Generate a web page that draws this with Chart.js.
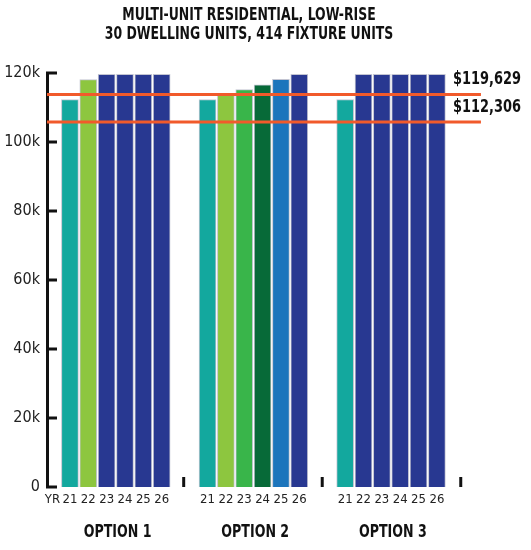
<!DOCTYPE html>
<html lang="en">
<head>
  <meta charset="UTF-8">
  <title>Multi-unit residential, low-rise</title>
  <script src="https://cdn.jsdelivr.net/npm/chart.js"></script>
  <style>
    body {
      margin: 0;
      padding: 0;
      background: #ffffff;
    }
    .chart-box {
      width: 531px;
      height: 550px;
    }
  </style>
</head>
<body>
  <div class="chart-box">
    <canvas id="costChart"></canvas>
  </div>

  <script>
    // values
    const titleLines = ['MULTI-UNIT RESIDENTIAL, LOW-RISE', '30 DWELLING UNITS, 414 FIXTURE UNITS'];
    const yearLabels = ['21', '22', '23', '24', '25', '26'];
    const optionNames = ['OPTION 1', 'OPTION 2', 'OPTION 3'];
    const option1 = [112306, 118100, 119629, 119629, 119629, 119629];
    const option2 = [112306, 113700, 115200, 116600, 118200, 119629];
    const option3 = [112306, 119629, 119629, 119629, 119629, 119629];
    const refLines = [113800, 105800];
    const refLabels = ['$119,629', '$112,306'];
    const yTicks = [0, 20000, 40000, 60000, 80000, 100000, 120000];

    const FONT = "'DejaVu Sans Condensed', 'Liberation Sans Narrow', sans-serif";
    const TEAL = '#13a89e', LIME = '#8dc63f', GREEN = '#39b54a', DKGREEN = '#076a38', BLUE = '#1c75bc', NAVY = '#283891';
    const ORANGE = '#f15a2b';

    // each option group is 7.5 slots wide, bars one slot apart
    const GROUP = 7.5;
    const groups = [option1, option2, option3];
    const barColors = [
      [TEAL, LIME, NAVY, NAVY, NAVY, NAVY],
      [TEAL, LIME, GREEN, DKGREEN, BLUE, NAVY],
      [TEAL, NAVY, NAVY, NAVY, NAVY, NAVY]
    ];

    const barPoints = [];
    const colors = [];
    groups.forEach((vals, g) => {
      vals.forEach((v, j) => {
        barPoints.push({ x: g * GROUP + j, y: v });
        colors.push(barColors[g][j]);
      });
    });

    const tickMap = { '-0.95': 'YR' };
    groups.forEach((vals, g) => {
      yearLabels.forEach((lab, j) => { tickMap[String(g * GROUP + j)] = lab; });
    });
    const separators = [6.2, 13.75, 21.3];

    const X_MIN = -1.25, X_MAX = 23.33, LINE_END = 22.4;

    const lineSets = refLines.map(v => ({
      type: 'line',
      data: [{ x: X_MIN, y: v }, { x: LINE_END, y: v }],
      borderColor: ORANGE,
      borderWidth: 3,
      pointRadius: 0,
      order: 0
    }));

    // condensed-looking text: squeeze horizontally
    function squeezeText(c, text, x, y, size, sx, align) {
      c.save();
      c.translate(x, y);
      c.scale(sx, 1);
      c.font = 'bold ' + size + 'px ' + FONT;
      c.textAlign = align;
      c.textBaseline = 'middle';
      c.fillStyle = '#111';
      c.fillText(text, 0, 0);
      c.restore();
    }

    const extras = {
      id: 'extras',
      afterDraw(chart) {
        const c = chart.ctx;
        const xs = chart.scales.x, ys = chart.scales.y;
        const left = chart.chartArea.left;
        c.save();
        c.strokeStyle = '#111';
        c.lineWidth = 3;
        // inward tick marks on the y axis
        yTicks.forEach(v => {
          const py = ys.getPixelForValue(v);
          c.beginPath();
          c.moveTo(left - 1, py);
          c.lineTo(left + 10, py);
          c.stroke();
        });
        // small separators between groups
        const base = ys.getPixelForValue(0);
        separators.forEach(s => {
          const px = xs.getPixelForValue(s);
          c.beginPath();
          c.moveTo(px, base);
          c.lineTo(px, base - 10);
          c.stroke();
        });
        c.restore();

        // title
        titleLines.forEach((t, i) => squeezeText(c, t, 249, 15 + i * 19, 18, 0.77, 'center'));
        // labels for the reference lines
        refLines.forEach((v, i) => {
          squeezeText(c, refLabels[i], 453, ys.getPixelForValue(v) - 15, 18, 0.8, 'left');
        });
        // option names under each group
        optionNames.forEach((name, g) => {
          squeezeText(c, name, xs.getPixelForValue(g * GROUP + 2.6), 532, 18, 0.78, 'center');
        });
      }
    };

    new Chart(document.getElementById('costChart'), {
      type: 'bar',
      data: {
        datasets: [
          ...lineSets,
          {
            type: 'bar',
            data: barPoints,
            backgroundColor: colors,
            borderColor: '#c3c5d2',
            borderWidth: 1,
            borderSkipped: 'start',
            barThickness: 17,
            order: 1
          }
        ]
      },
      options: {
        responsive: true,
        maintainAspectRatio: false,
        animation: false,
        layout: { autoPadding: false, padding: { left: 0, right: 33, top: 73, bottom: 36 } },
        plugins: {
          legend: { display: false },
          tooltip: { enabled: false },
          title: { display: false }
        },
        scales: {
          x: {
            type: 'linear',
            min: X_MIN,
            max: X_MAX,
            offset: false,
            grid: { display: false, drawTicks: false, offset: false },
            border: { display: false },
            afterBuildTicks: (scale) => {
              scale.ticks = Object.keys(tickMap).map(k => ({ value: Number(k) }));
            },
            afterFit: (scale) => { scale.height = 27; },
            ticks: {
              autoSkip: false,
              maxRotation: 0,
              padding: 5,
              color: '#222',
              font: { family: FONT, size: 13 },
              callback: (v) => tickMap[String(v)] || ''
            }
          },
          y: {
            min: 0,
            max: 120000,
            grid: { display: false, drawTicks: false },
            border: { display: true, color: '#111', width: 3 },
            afterBuildTicks: (scale) => {
              scale.ticks = yTicks.map(v => ({ value: v }));
            },
            afterFit: (scale) => { scale.width = 47; },
            ticks: {
              padding: 7,
              color: '#222',
              font: { family: FONT, size: 16 },
              callback: (v) => v === 0 ? '0' : (v / 1000) + 'k'
            }
          }
        }
      },
      plugins: [extras]
    });
  </script>
</body>
</html>
